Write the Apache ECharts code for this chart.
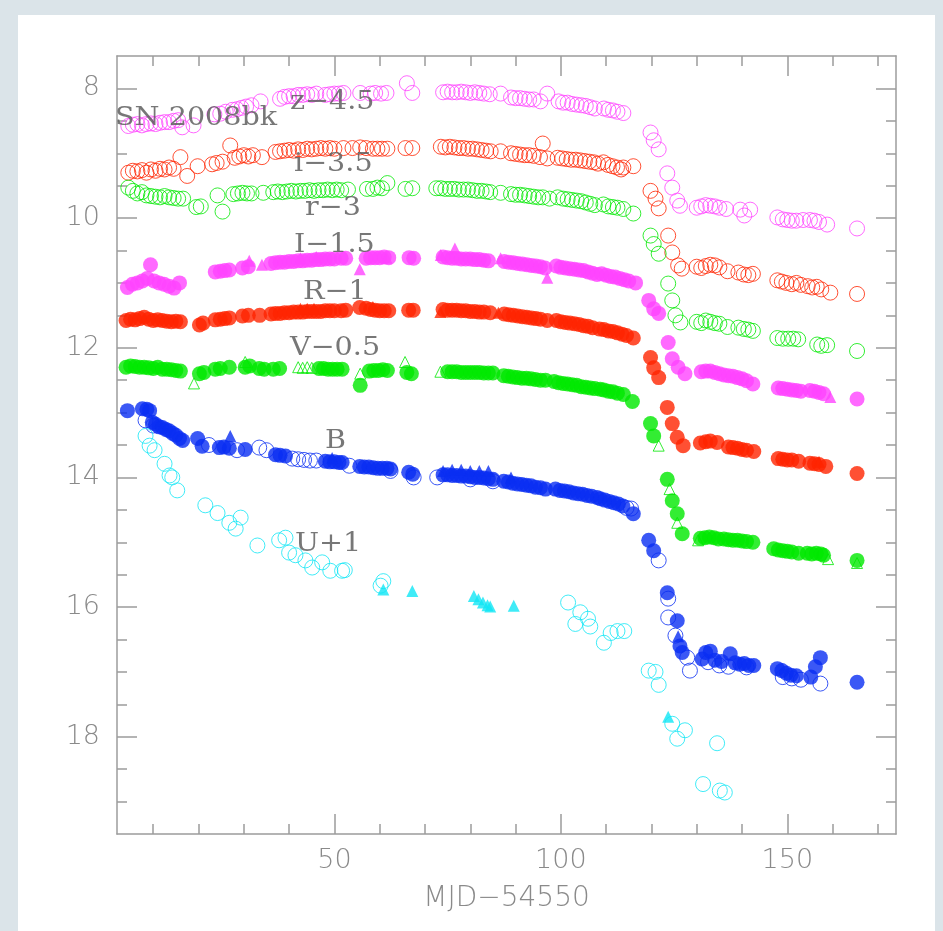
<!DOCTYPE html>
<html><head><meta charset="utf-8">
<script src="https://cdn.jsdelivr.net/npm/echarts@6/dist/echarts.min.js"></script>
<style>
html,body{margin:0;padding:0;background:#dbe4e9;width:943px;height:931px;overflow:hidden;}
#bg{position:absolute;left:18px;top:15px;width:917px;height:916px;background:#ffffff;}
#chart{position:absolute;left:0;top:0;width:943px;height:931px;}
</style></head><body>
<div id="bg"></div><div id="chart"></div>
<script>
// ---- tick values ----
const xMajorTicks = [50, 100, 150];
const xMinorTicks = [10, 20, 30, 40, 60, 70, 80, 90, 110, 120, 130, 140, 160, 170];
const yMajorTicks = [8, 10, 12, 14, 16, 18];
const yMinorTicks = [8.5, 9, 9.5, 10.5, 11, 11.5, 12.5, 13, 13.5, 14.5, 15, 15.5, 16.5, 17, 17.5, 18.5, 19];
const xTitle = 'MJD\u221254550';
const bandLabels = ['SN 2008bk', 'z\u22124.5', 'i\u22123.5', 'r\u22123', 'I\u22121.5', 'R\u22121', 'V\u22120.5', 'B', 'U+1'];

// ---- data: [MJD-54550, magnitude + offset] ----
const zOpen = [[4.5,8.58],[5.5,8.56],[6.5,8.55],[7.5,8.57],[8.5,8.55],[9.5,8.54],[10.5,8.55],[11.5,8.53],[12.5,8.52],[13.5,8.52],[14.5,8.5],[15.5,8.49],[16.4,8.6],[18.9,8.57],[23.5,8.4],[24.8,8.39],[26,8.36],[27.5,8.33],[28.5,8.32],[29.5,8.3],[30.5,8.28],[31.7,8.26],[33.7,8.2],[38,8.16],[39,8.13],[40,8.12],[41,8.12],[42,8.1],[43,8.1],[44,8.09],[45,8.1],[46,8.08],[48,8.1],[49,8.09],[50,8.08],[51,8.08],[52,8.07],[55.7,8.07],[58,8.08],[59,8.07],[60.3,8.08],[61.5,8.07],[66,7.92],[67.2,8.07],[74,8.06],[75,8.05],[76,8.06],[77,8.06],[78,8.05],[79,8.06],[80,8.07],[81,8.06],[82,8.07],[83,8.08],[84.3,8.09],[86.7,8.08],[89,8.14],[90,8.15],[91,8.15],[92,8.16],[93,8.17],[94,8.17],[95.5,8.2],[97,8.08],[99.5,8.2],[100.5,8.22],[101.5,8.22],[102.5,8.24],[103.5,8.25],[104.5,8.26],[105.5,8.27],[106.5,8.29],[107.5,8.31],[109.5,8.31],[110.5,8.33],[111.5,8.34],[112.5,8.36],[113.8,8.38],[119.8,8.68],[120.5,8.8],[121.6,8.94],[123.5,9.31],[124.6,9.53],[125.7,9.73],[126.3,9.81],[130,9.84],[131,9.82],[132,9.8],[133,9.81],[134,9.82],[135,9.84],[136.5,9.86],[139.6,9.87],[140.5,9.96],[141.8,9.87],[147.8,9.99],[149,10.02],[150,10.03],[151,10.04],[152,10.04],[153.5,10.03],[155,10.03],[156,10.04],[157,10.06],[158.8,10.1],[165.4,10.16]];

const iOpen = [[4.5,9.3],[5.5,9.27],[6.5,9.28],[7.5,9.26],[8.5,9.3],[9.5,9.25],[10.5,9.27],[11.5,9.24],[12.5,9.25],[13.5,9.22],[14.5,9.24],[16,9.06],[17.5,9.35],[19.8,9.2],[23,9.17],[24,9.15],[25.3,9.13],[27,8.88],[28,9.07],[29,9.05],[30,9.03],[31,9.05],[32,9.03],[34,9.06],[37,8.98],[38,8.97],[39,8.96],[40,8.95],[41,8.96],[42,8.94],[43,8.95],[44,8.93],[45,8.94],[46,8.93],[47,8.92],[48,8.93],[49,8.92],[50,8.93],[52,8.92],[54,8.92],[55.7,8.91],[57,8.92],[58.5,8.93],[59.5,8.93],[60.5,8.93],[61.7,8.93],[65.7,8.92],[67.2,8.92],[73.5,8.9],[74.5,8.91],[75.5,8.9],[76.5,8.91],[77.5,8.92],[78.5,8.92],[79.5,8.93],[80.5,8.93],[81.5,8.94],[82.5,8.95],[83.5,8.96],[84.5,8.97],[86.7,8.97],[89,9.0],[90,9.01],[91,9.02],[92,9.03],[93,9.03],[94,9.04],[95.4,9.06],[96,8.85],[97,9.08],[99.3,9.07],[100.3,9.08],[101.3,9.09],[102.3,9.1],[103.3,9.1],[104.3,9.11],[105.3,9.12],[106.3,9.13],[107.3,9.14],[108.2,9.16],[109.4,9.14],[110.4,9.18],[111.4,9.2],[112.4,9.22],[113.3,9.25],[113.8,9.22],[116,9.2],[119.8,9.58],[120.9,9.7],[121.6,9.85],[123.7,10.27],[124.6,10.53],[125.9,10.73],[126.7,10.78],[130,10.75],[131,10.77],[132,10.74],[133,10.72],[134,10.73],[135,10.76],[136.8,10.82],[139.2,10.84],[140.4,10.87],[141.4,10.88],[142.4,10.86],[147.8,10.96],[148.8,10.98],[149.8,11.0],[151,11.02],[152,11.0],[153,11.03],[154.5,11.05],[155.5,11.07],[156.5,11.06],[157.5,11.1],[159.5,11.15],[165.4,11.17]];

const rOpen = [[4.5,9.53],[5.5,9.58],[6.5,9.62],[7.5,9.6],[8.5,9.65],[9.5,9.66],[10.5,9.67],[11.5,9.68],[12.5,9.66],[13.5,9.68],[14.5,9.69],[15.5,9.7],[16.6,9.7],[19.5,9.83],[20.5,9.82],[24.2,9.65],[25.3,9.9],[27.7,9.63],[28.7,9.62],[29.7,9.61],[30.7,9.62],[31.7,9.62],[34.3,9.61],[36.5,9.6],[37.5,9.59],[38.5,9.6],[39.5,9.59],[40.5,9.58],[41.5,9.59],[42.5,9.58],[43.5,9.58],[44.5,9.57],[45.5,9.58],[46.5,9.57],[47.5,9.57],[48.5,9.56],[49.5,9.57],[50.5,9.56],[51.5,9.57],[53,9.56],[57.2,9.55],[58.5,9.55],[59.5,9.53],[60.5,9.54],[61.7,9.46],[65.7,9.55],[67.2,9.54],[72.5,9.54],[73.5,9.54],[74.5,9.55],[75.5,9.55],[76.5,9.55],[77.5,9.56],[78.5,9.56],[79.5,9.56],[80.5,9.57],[81.5,9.58],[82.5,9.58],[83.5,9.59],[84.4,9.6],[86.7,9.61],[89,9.63],[90,9.64],[91,9.64],[92,9.65],[93,9.66],[94,9.67],[95,9.68],[96,9.68],[97.5,9.7],[99.3,9.68],[100.5,9.7],[101.5,9.71],[102.5,9.72],[103.5,9.73],[104.5,9.74],[105.5,9.76],[106.5,9.78],[107.5,9.8],[109.4,9.79],[110.5,9.82],[111.5,9.83],[112.5,9.84],[113.8,9.86],[116,9.93],[119.8,10.27],[120.5,10.4],[121.6,10.55],[123.7,11.01],[124.6,11.27],[125.3,11.5],[126.4,11.61],[130,11.6],[131,11.62],[132,11.58],[133,11.6],[134,11.62],[135,11.63],[136.8,11.68],[139.2,11.69],[140.4,11.71],[141.4,11.72],[142.4,11.74],[147.8,11.85],[149,11.86],[150.2,11.86],[151.3,11.86],[152.4,11.87],[156.6,11.95],[157.5,11.97],[158.8,11.96],[165.4,12.05]];

const IFilled = [[4.3,11.07],[5.4,11.02],[6.5,11.0],[7.6,10.97],[8.7,10.93],[9.4,10.72],[10.2,10.97],[11.3,11.0],[12.4,11.02],[13.5,11.05],[14.6,11.08],[15.8,11.0],[23.7,10.83],[24.8,10.82],[25.8,10.81],[26.8,10.8],[29.7,10.77],[31,10.75],[36,10.7],[37,10.69],[38,10.68],[39,10.68],[40,10.67],[41,10.67],[42,10.66],[43,10.66],[44,10.65],[45,10.65],[46,10.64],[47,10.64],[48,10.63],[49,10.63],[50,10.63],[51.5,10.62],[52.5,10.62],[57,10.62],[58,10.61],[59,10.61],[60,10.61],[61,10.6],[62,10.61],[66.5,10.61],[67.5,10.62],[74,10.6],[75,10.61],[76,10.62],[77,10.62],[78,10.63],[79,10.63],[80,10.63],[81,10.64],[82,10.64],[83,10.65],[84,10.66],[87.5,10.67],[88.5,10.68],[89.5,10.69],[90.5,10.7],[91.5,10.71],[92.5,10.72],[93.5,10.73],[94.5,10.74],[95.5,10.75],[96.5,10.77],[99,10.74],[100,10.76],[101,10.77],[102,10.78],[103,10.79],[104,10.8],[105,10.81],[106,10.83],[107,10.85],[108,10.87],[109,10.86],[110,10.88],[111,10.9],[112,10.91],[113,10.93],[114,10.95],[115,10.97],[116.5,11.0],[119.4,11.27],[120.5,11.4],[121.6,11.47],[123.7,11.92],[124.6,12.17],[125.9,12.3],[127.4,12.4],[131,12.37],[132,12.36],[133,12.36],[134,12.38],[135,12.4],[136,12.42],[137,12.43],[138,12.44],[139,12.46],[140,12.48],[141,12.51],[142.4,12.56],[148,12.62],[149,12.63],[150,12.64],[151,12.65],[152,12.66],[153,12.67],[155,12.66],[156,12.67],[157,12.69],[158,12.71],[165.4,12.79]];
const ITri = [[31.2,10.66],[34,10.72],[42.5,10.62],[46,10.6],[55.6,10.79],[61.5,10.61],[73.5,10.57],[76.6,10.47],[86.7,10.62],[97,10.92],[159.5,12.76]];

const RFilled = [[4,11.58],[5,11.56],[6,11.57],[7,11.55],[8,11.53],[9,11.56],[10,11.58],[11,11.57],[12,11.58],[13,11.59],[14,11.6],[15,11.59],[16,11.6],[20.2,11.65],[21,11.62],[23.7,11.57],[24.8,11.56],[25.8,11.55],[26.8,11.54],[29.7,11.51],[31,11.5],[33.5,11.5],[36,11.48],[37,11.47],[38,11.47],[39,11.46],[40,11.46],[41,11.45],[42,11.45],[43,11.45],[44,11.44],[45,11.44],[46,11.44],[47,11.44],[48,11.43],[49,11.43],[50,11.43],[51.5,11.43],[52.5,11.42],[55.6,11.38],[57,11.39],[58,11.41],[59,11.42],[60,11.43],[61,11.43],[62,11.43],[66.4,11.42],[67.4,11.42],[74,11.41],[75,11.42],[76,11.42],[77,11.42],[78,11.43],[79,11.43],[80,11.44],[81,11.44],[82,11.45],[83,11.45],[84.4,11.46],[87.5,11.48],[88.5,11.49],[89.5,11.5],[90.5,11.51],[91.5,11.52],[92.5,11.53],[93.5,11.54],[94.5,11.55],[95.5,11.56],[97,11.58],[99,11.58],[100,11.6],[101,11.61],[102,11.62],[103,11.63],[104,11.64],[105,11.66],[106,11.67],[107,11.69],[108.5,11.71],[109.5,11.72],[110.5,11.74],[111.5,11.75],[112.5,11.77],[113.5,11.79],[114.5,11.81],[116,11.85],[119.8,12.15],[120.5,12.31],[121.6,12.46],[123.5,12.92],[124.6,13.17],[125.7,13.38],[127,13.51],[130.8,13.47],[132,13.45],[133,13.44],[134.5,13.46],[137,13.53],[138,13.54],[139,13.55],[140,13.57],[141,13.58],[142.6,13.6],[148,13.71],[149,13.72],[150,13.73],[151,13.73],[152.5,13.75],[155,13.78],[156,13.79],[157,13.8],[158.5,13.83],[165.4,13.94]];
const RTri = [[42.5,11.4],[44,11.4],[45.5,11.4],[58.5,11.37],[73.4,11.45],[86.2,11.46],[157,13.76]];

const VFilled = [[4,12.3],[5,12.28],[6,12.29],[7,12.3],[8,12.3],[9,12.31],[10,12.32],[11,12.3],[12,12.33],[13,12.33],[14,12.34],[15,12.35],[16,12.36],[20.2,12.4],[21.2,12.38],[23.7,12.33],[24.8,12.32],[26.8,12.3],[30.3,12.3],[31.3,12.28],[33.4,12.32],[34.5,12.33],[36.5,12.33],[37.9,12.32],[46.6,12.32],[47.6,12.32],[48.6,12.33],[49.6,12.33],[50.6,12.33],[51.7,12.33],[55.7,12.58],[57.7,12.36],[58.7,12.35],[59.7,12.35],[60.7,12.34],[61.7,12.35],[66,12.38],[67,12.4],[75,12.37],[76,12.37],[77,12.37],[78,12.38],[79,12.38],[80,12.38],[81,12.38],[82,12.38],[83,12.39],[84,12.39],[85,12.39],[87.4,12.43],[88.4,12.44],[89.4,12.45],[90.4,12.46],[91.4,12.47],[92.4,12.47],[93.4,12.48],[94.4,12.49],[95.5,12.5],[96.6,12.5],[98.5,12.52],[99.5,12.54],[100.5,12.55],[101.5,12.56],[102.5,12.57],[103.5,12.58],[104.5,12.6],[105.5,12.61],[106.5,12.62],[107.5,12.63],[108.7,12.64],[109.5,12.65],[110.5,12.67],[111.5,12.68],[112.5,12.7],[113.8,12.72],[115.8,12.83],[119.8,13.17],[120.5,13.36],[123.5,14.03],[124.6,14.36],[125.7,14.56],[126.8,14.87],[130.8,14.94],[131.8,14.93],[132.8,14.92],[133.8,14.93],[134.8,14.95],[136,14.95],[137,14.96],[138,14.97],[139,14.97],[140,14.98],[141,14.99],[142.4,15.0],[147,15.1],[148,15.12],[149,15.13],[150,15.14],[151,15.15],[152.5,15.17],[154.4,15.17],[155.4,15.18],[156.4,15.17],[157.4,15.18],[158,15.2],[165.4,15.28]];
const VTriOpen = [[19,12.55],[30.3,12.22],[42,12.3],[43,12.31],[44,12.3],[45,12.31],[55.7,12.4],[65.6,12.22],[73.4,12.37],[121.6,13.51],[124,14.18],[125.7,14.7],[130.3,14.97],[159,15.26],[165.4,15.32]];

const BFilled = [[4.3,12.97],[7.6,12.94],[8.6,12.95],[9.2,12.97],[9.8,13.15],[10.5,13.18],[11.3,13.22],[12,13.23],[12.8,13.26],[13.5,13.28],[14.3,13.32],[15,13.35],[15.8,13.4],[16.5,13.43],[19.8,13.4],[20.8,13.52],[24.6,13.54],[25.6,13.53],[26.8,13.55],[30.3,13.57],[37,13.65],[38,13.66],[39.2,13.67],[48,13.75],[49,13.76],[50,13.76],[51,13.77],[51.7,13.77],[55.6,13.83],[56.6,13.84],[57.6,13.84],[58.6,13.85],[59.6,13.86],[60.6,13.86],[61.6,13.86],[62.4,13.87],[66.4,13.92],[67.3,13.95],[74,13.96],[75,13.96],[76,13.97],[77,13.97],[78,13.98],[79,13.98],[80,13.99],[81,14.0],[82,14.0],[83,14.01],[84,14.02],[85,14.03],[87.4,14.06],[88.4,14.07],[89.4,14.09],[90.4,14.1],[91.4,14.11],[92.4,14.12],[93.4,14.13],[94.4,14.15],[95.5,14.16],[96.6,14.18],[98.8,14.18],[99.8,14.2],[100.8,14.21],[101.8,14.22],[102.8,14.24],[103.8,14.25],[104.8,14.26],[105.8,14.28],[106.8,14.29],[108,14.31],[108.7,14.33],[109.7,14.35],[110.7,14.37],[111.7,14.39],[112.7,14.41],[113.7,14.44],[116,14.56],[119.4,14.97],[120.5,15.13],[123.5,15.78],[125.7,16.21],[126.3,16.6],[126.8,16.7],[131.2,16.8],[132,16.7],[133,16.68],[134,16.82],[135.5,16.84],[137.4,16.72],[138.5,16.86],[139.5,16.88],[140.5,16.87],[141.5,16.9],[142.6,16.9],[147.8,16.95],[148.8,16.98],[149.8,17.02],[150.8,17.05],[152,17.06],[155.2,17.08],[156.2,16.92],[157.3,16.78],[165.4,17.16]];
const BOpen = [[8.3,13.12],[10,13.2],[22.3,13.5],[28.5,13.58],[33.4,13.54],[35,13.58],[40.7,13.71],[42,13.72],[43.3,13.73],[44.6,13.74],[46,13.74],[53.3,13.82],[62.4,13.9],[67.5,14.0],[72.7,14.0],[80,14.03],[85,14.06],[114.5,14.47],[115.5,14.48],[121.6,15.28],[123.7,15.87],[123.7,16.16],[125.3,16.44],[127.9,16.78],[128.5,16.98],[132.5,16.85],[135,16.9],[137,16.92],[141,16.93],[149,17.08],[151,17.1],[153,17.12],[157.3,17.18]];
const BTri = [[27,13.36],[49.5,13.7],[74,13.9],[76,13.88],[78,13.88],[80,13.9],[82,13.9],[84,13.9],[89,14.0],[125.9,16.45]];

const UOpen = [[8.3,13.36],[9.2,13.51],[10.3,13.58],[12.5,13.79],[13.6,13.97],[14.2,14.0],[15.3,14.2],[21.5,14.43],[24.2,14.55],[26.8,14.7],[28.2,14.79],[29.3,14.62],[33,15.05],[37.8,14.97],[39.2,14.93],[40,15.16],[41.4,15.2],[43.6,15.28],[45.1,15.39],[47.3,15.31],[49.1,15.44],[51.7,15.44],[52.3,15.43],[60.2,15.67],[60.8,15.6],[101.6,15.93],[103.2,16.26],[104.3,16.08],[106,16.18],[106.5,16.3],[109.5,16.55],[111,16.4],[112.5,16.37],[114,16.37],[119.4,16.98],[120.9,17.0],[121.6,17.2],[124.6,17.8],[125.7,18.03],[127.4,17.9],[134.5,18.1],[131.4,18.73],[135.1,18.83],[136.2,18.86]];
const UTri = [[60.8,15.73],[67.2,15.75],[80.8,15.83],[81.8,15.88],[82.8,15.93],[83.8,15.97],[84.4,15.99],[89.6,15.98],[123.7,17.69]];

// ---- styling ----
const C = {mag:'#ff44ff', red:'#ff2400', grn:'#00e800', blu:'#0a2ef2', cyn:'#10e6f5'};
const AX = '#9c9c9c';
const TICKFONT = {color:'#8a8a8a', fontSize:27, fontFamily:'DejaVu Sans', fontWeight:200};

function openS(name, data, color, sym, size){
  return {name, type:'scatter', xAxisIndex:0, yAxisIndex:0, data, symbol:sym||'circle', symbolSize:size||15,
    itemStyle:{color:'rgba(0,0,0,0)', borderColor:color, borderWidth:1}, silent:true, animation:false};
}
function fillS(name, data, color, sym, size){
  return {name, type:'scatter', xAxisIndex:0, yAxisIndex:0, data, symbol:sym||'circle', symbolSize:size||15,
    itemStyle:{color, borderWidth:0}, silent:true, animation:false};
}
function xAx(grid, pos, ticks, len, labels, line){
  const a = {type:'value', gridIndex:grid, position:pos, min:2, max:174,
    axisLine:{show:line, onZero:false, lineStyle:{color:AX, width:1.5}},
    axisTick:{show:true, inside:true, length:len, customValues:ticks, lineStyle:{color:AX, width:1.5}},
    axisLabel:Object.assign({show:labels, customValues:ticks, margin:13}, TICKFONT),
    splitLine:{show:false}};
  if (labels) { a.name = xTitle; a.nameLocation='middle'; a.nameGap=51;
    a.nameTextStyle = {color:'#8a8a8a', fontSize:28, fontFamily:'DejaVu Sans', fontWeight:200}; }
  return a;
}
function yAx(grid, pos, ticks, len, labels, line){
  return {type:'value', gridIndex:grid, position:pos, min:7.5, max:19.5, inverse:true,
    axisLine:{show:line, onZero:false, lineStyle:{color:AX, width:1.5}},
    axisTick:{show:true, inside:true, length:len, customValues:ticks, lineStyle:{color:AX, width:1.5}},
    axisLabel:Object.assign({show:labels, customValues:ticks, margin:17}, TICKFONT),
    splitLine:{show:false}};
}
const gridRect = {left:117, right:47, top:56, bottom:97};

const labelPos = [[115,118],[290,102],[294,164],[305,208],[294,245],[303,292],[290,348],[325,441],[295,544]];
const graphics = bandLabels.map((t,i)=>({type:'text', x:labelPos[i][0], y:labelPos[i][1], scaleX:1.1, z:100,
  style:{text:t, fill:'rgba(95,95,95,0.85)', font:'26px "DejaVu Serif"', verticalAlign:'middle', align:'left'}}));

const chart = echarts.init(document.getElementById('chart'), null, {renderer:'canvas'});
chart.setOption({
  animation:false,
  backgroundColor:'rgba(0,0,0,0)',
  grid:[Object.assign({}, gridRect), Object.assign({}, gridRect)],
  xAxis:[xAx(0,'bottom',xMajorTicks,20,true,true), xAx(0,'top',xMajorTicks,20,false,true),
         xAx(1,'bottom',xMinorTicks,10,false,false), xAx(1,'top',xMinorTicks,10,false,false)],
  yAxis:[yAx(0,'left',yMajorTicks,20,true,true), yAx(0,'right',yMajorTicks,20,false,true),
         yAx(1,'left',yMinorTicks,10,false,false), yAx(1,'right',yMinorTicks,10,false,false)],
  graphic: graphics,
  series:[
    openS('z-4.5', zOpen, C.mag),
    openS('i-3.5', iOpen, C.red),
    openS('r-3', rOpen, C.grn),
    fillS('I-1.5', IFilled, C.mag),
    fillS('I-1.5 tri', ITri, C.mag, 'triangle', 12),
    fillS('R-1', RFilled, C.red),
    fillS('R-1 tri', RTri, C.red, 'triangle', 12),
    fillS('V-0.5', VFilled, C.grn),
    openS('V-0.5 tri', VTriOpen, C.grn, 'triangle', 11),
    openS('B open', BOpen, C.blu),
    fillS('B', BFilled, C.blu),
    fillS('B tri', BTri, C.blu, 'triangle', 12),
    openS('U+1', UOpen, C.cyn),
    fillS('U+1 tri', UTri, C.cyn, 'triangle', 12)
  ]
});
</script></body></html>
